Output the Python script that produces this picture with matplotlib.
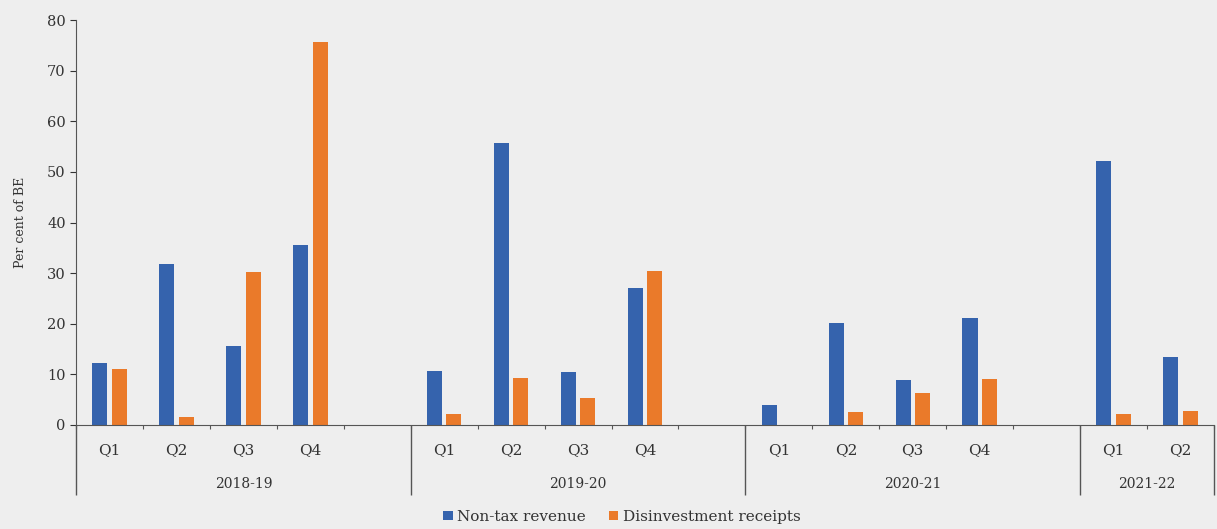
import matplotlib
matplotlib.use("Agg")
import matplotlib.pyplot as plt
import numpy as np

years = ["2018-19", "2019-20", "2020-21", "2021-22"]
quarters = [["Q1", "Q2", "Q3", "Q4"], ["Q1", "Q2", "Q3", "Q4"],
            ["Q1", "Q2", "Q3", "Q4"], ["Q1", "Q2"]]
non_tax = [12.3, 31.8, 15.7, 35.6,
           10.6, 55.8, 10.5, 27.0,
           4.0, 20.2, 8.8, 21.1,
           52.1, 13.4]
disinvest = [11.0, 1.5, 30.2, 75.7,
             2.2, 9.3, 5.4, 30.4,
             0.0, 2.6, 6.3, 9.0,
             2.2, 2.8]

plt.rcParams["font.family"] = ["DejaVu Serif"]
txt = "#333333"
bg = "#eeeeee"
blue = "#3563ad"
orange = "#ea7a2a"

fig = plt.figure(figsize=(12.17, 5.29), dpi=100, facecolor=bg)
ax = fig.add_axes([0.0625, 0.1966, 0.935, 0.7654], facecolor=bg)

# slot positions: each year gets 5 slots (last year 2), quarters in first slots
xpos = []
qlab = []
bounds = [0]
start = 0
for y, qs in zip(years, quarters):
    for i, q in enumerate(qs):
        xpos.append(start + i + 0.5)
        qlab.append(q)
    nslots = 5 if len(qs) == 4 else len(qs)
    start += nslots
    bounds.append(start)
xpos = np.array(xpos)

w = 0.225
ax.bar(xpos - 0.145, non_tax, w, color=blue, label="Non-tax revenue")
ax.bar(xpos + 0.145, disinvest, w, color=orange, label="Disinvestment receipts")

ax.set_xlim(0, bounds[-1])
ax.set_ylim(0, 80)
ax.set_yticks(range(0, 81, 10))
ax.tick_params(axis="y", colors=txt, labelsize=10.5, length=4, width=0.8)
ax.set_xticks(range(0, bounds[-1] + 1))
ax.set_xticklabels([])
ax.tick_params(axis="x", length=3, width=0.8, colors="#555555")
for s in ["top", "right"]:
    ax.spines[s].set_visible(False)
ax.spines["left"].set_color("#555555")
ax.spines["bottom"].set_color("#555555")
ax.set_ylabel("Per cent of BE", color=txt, fontsize=9, labelpad=14)

for x, q in zip(xpos, qlab):
    ax.text(x, -5.0, q, ha="center", va="center", fontsize=11, color=txt)
for i, y in enumerate(years):
    ax.text((bounds[i] + bounds[i + 1]) / 2, -11.7, y, ha="center",
            va="center", fontsize=10, color=txt)
ax.vlines(bounds, 0, -13.8, color="#555555", lw=1, clip_on=False)

fig.legend(loc="center", bbox_to_anchor=(0.511, 0.023), ncol=2, frameon=False,
           handlelength=0.6, handleheight=0.6, handletextpad=0.3,
           columnspacing=1.5, fontsize=11, labelcolor=txt)

fig.savefig("out.png", dpi=100, facecolor=bg)
